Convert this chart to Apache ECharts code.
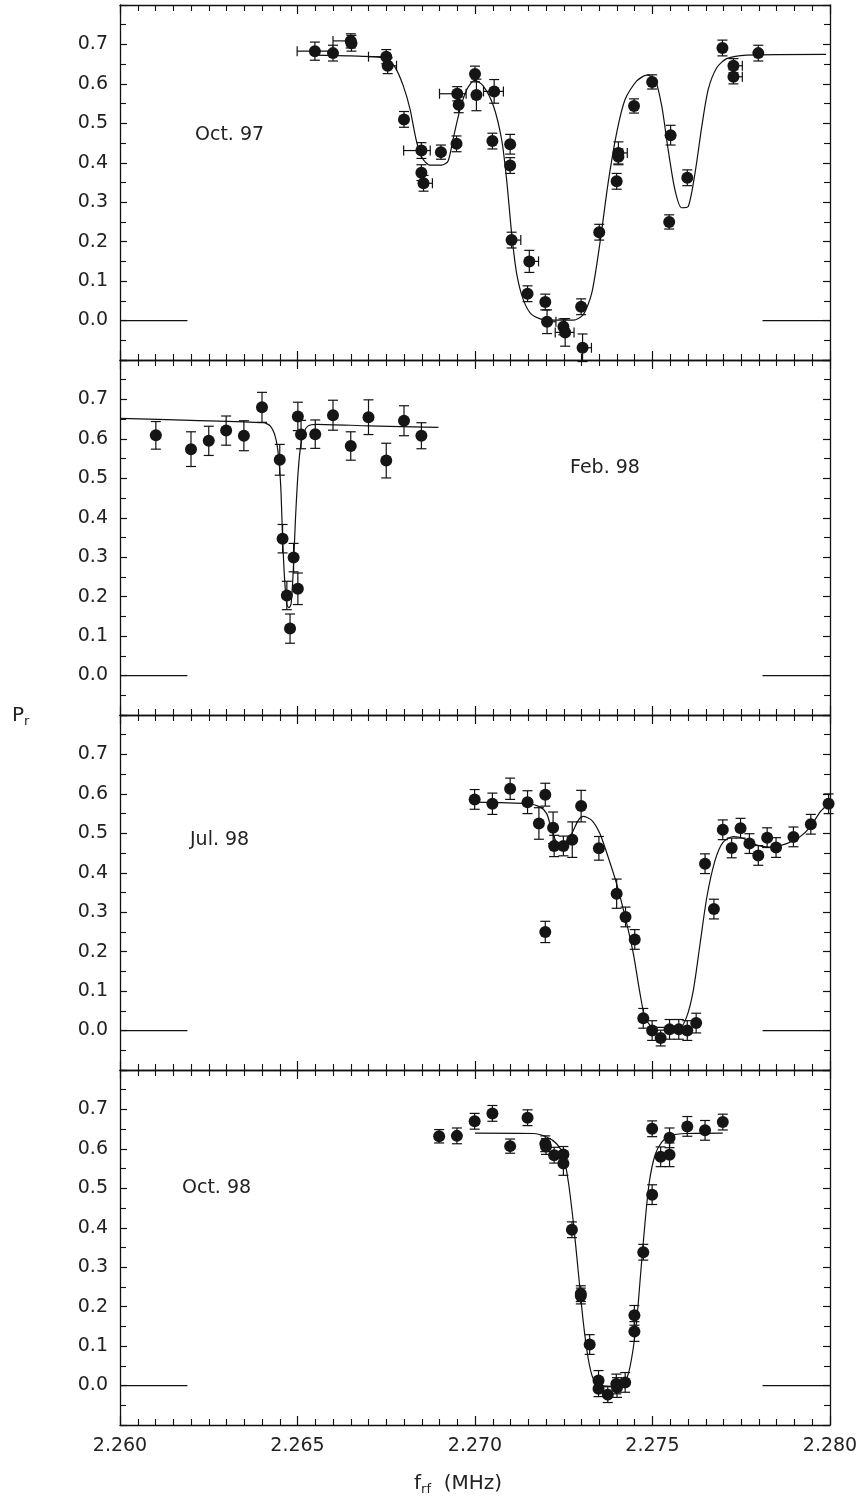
<!DOCTYPE html>
<html>
<head>
<meta charset="utf-8">
<script src="https://cdn.jsdelivr.net/npm/echarts@6/dist/echarts.min.js"></script>
<style>
html, body { margin: 0; padding: 0; background: #fff; }
#main { width: 864px; height: 1506px; }
</style>
</head>
<body>
<div id="main"></div>
<script>
// frequency axis (MHz) and polarisation axis
var xMin = 2.260, xMax = 2.280, xStep = 0.005;
var yMin = -0.1, yMax = 0.8, yStep = 0.1;
var panelNames = ['Oct. 97', 'Feb. 98', 'Jul. 98', 'Oct. 98'];

// measured points: [f, Pr, dPr, df left, df right]
var oct97Points = [
    [2.26549, 0.683, 0.023, 0.0005, 0.0005],
    [2.26600, 0.678, 0.020, 0, 0],
    [2.26650, 0.709, 0.018, 0.0005, 0],
    [2.26652, 0.703, 0.020, 0, 0],
    [2.26750, 0.669, 0.018, 0.0005, 0],
    [2.26754, 0.646, 0.020, 0, 0.00025],
    [2.26800, 0.510, 0.020, 0, 0],
    [2.26849, 0.431, 0.020, 0.0005, 0.00025],
    [2.26849, 0.375, 0.020, 0, 0],
    [2.26855, 0.348, 0.020, 0, 0.00025],
    [2.26904, 0.427, 0.018, 0, 0],
    [2.26948, 0.448, 0.020, 0, 0],
    [2.26950, 0.575, 0.018, 0.0005, 0.00025],
    [2.26954, 0.547, 0.020, 0, 0],
    [2.27000, 0.625, 0.020, 0, 0],
    [2.27004, 0.572, 0.040, 0, 0],
    [2.27054, 0.581, 0.030, 0.0003, 0.00026],
    [2.27049, 0.455, 0.020, 0, 0],
    [2.27099, 0.447, 0.025, 0, 0],
    [2.27099, 0.393, 0.020, 0, 0],
    [2.27103, 0.204, 0.020, 0, 0.00026],
    [2.27153, 0.150, 0.028, 0, 0.00026],
    [2.27148, 0.068, 0.020, 0, 0],
    [2.27198, 0.047, 0.020, 0, 0],
    [2.27203, -0.003, 0.030, 0, 0.00025],
    [2.27249, -0.016, 0.020, 0, 0],
    [2.27254, -0.030, 0.035, 0.00028, 0.00025],
    [2.27299, 0.035, 0.020, 0, 0],
    [2.27303, -0.069, 0.035, 0, 0.00025],
    [2.27350, 0.224, 0.020, 0, 0],
    [2.27399, 0.353, 0.020, 0, 0],
    [2.27404, 0.425, 0.028, 0, 0.00025],
    [2.27404, 0.415, 0.020, 0, 0],
    [2.27448, 0.544, 0.018, 0, 0],
    [2.27499, 0.605, 0.018, 0, 0],
    [2.27551, 0.470, 0.025, 0, 0],
    [2.27547, 0.250, 0.018, 0, 0],
    [2.27598, 0.362, 0.020, 0, 0],
    [2.27697, 0.691, 0.020, 0, 0],
    [2.27728, 0.646, 0.018, 0, 0.00025],
    [2.27728, 0.618, 0.018, 0, 0.00025],
    [2.27798, 0.678, 0.020, 0, 0]
];
var oct97Fit = [
    [2.2654, 0.673], [2.2665, 0.671], [2.2675, 0.665], [2.26775, 0.642], [2.26798, 0.595],
    [2.26817, 0.536], [2.26834, 0.459], [2.2685, 0.414], [2.26873, 0.394], [2.26906, 0.394],
    [2.26924, 0.404], [2.26938, 0.459], [2.26958, 0.536], [2.26977, 0.586], [2.26999, 0.609],
    [2.27023, 0.595], [2.27052, 0.544], [2.27075, 0.459], [2.27089, 0.358], [2.27103, 0.223],
    [2.27117, 0.121], [2.27136, 0.053], [2.2716, 0.015], [2.27202, 0.001], [2.27277, 0.001],
    [2.27305, 0.015], [2.27329, 0.070], [2.27352, 0.197], [2.27375, 0.349], [2.27399, 0.476],
    [2.27423, 0.561], [2.27455, 0.607], [2.27484, 0.622], [2.27507, 0.612], [2.27526, 0.544],
    [2.27544, 0.434], [2.27563, 0.332], [2.27582, 0.286], [2.27601, 0.290], [2.2762, 0.375],
    [2.27639, 0.493], [2.27657, 0.586], [2.27681, 0.641], [2.27709, 0.664], [2.27765, 0.673],
    [2.27989, 0.675]
];

var feb98Points = [
    [2.26101, 0.609, 0.035, 0, 0],
    [2.26200, 0.574, 0.044, 0, 0],
    [2.26250, 0.595, 0.037, 0, 0],
    [2.26299, 0.621, 0.037, 0, 0],
    [2.26349, 0.608, 0.038, 0, 0],
    [2.26400, 0.680, 0.038, 0, 0],
    [2.26450, 0.547, 0.039, 0, 0],
    [2.26458, 0.347, 0.036, 0, 0],
    [2.26470, 0.203, 0.036, 0, 0],
    [2.26479, 0.119, 0.037, 0, 0],
    [2.26489, 0.299, 0.036, 0, 0],
    [2.26501, 0.220, 0.040, 0, 0],
    [2.26501, 0.657, 0.036, 0, 0],
    [2.26510, 0.611, 0.036, 0, 0],
    [2.26550, 0.612, 0.036, 0, 0],
    [2.26600, 0.660, 0.038, 0, 0],
    [2.26650, 0.582, 0.036, 0, 0],
    [2.26700, 0.655, 0.044, 0, 0],
    [2.26750, 0.545, 0.044, 0, 0],
    [2.26800, 0.646, 0.038, 0, 0],
    [2.26849, 0.608, 0.033, 0, 0]
];
var feb98Fit = [
    [2.2600, 0.652], [2.2620, 0.647], [2.26404, 0.641], [2.26423, 0.633], [2.26437, 0.607],
    [2.26446, 0.561], [2.26453, 0.476], [2.26458, 0.349], [2.26464, 0.239], [2.2647, 0.180],
    [2.26476, 0.172], [2.26482, 0.182], [2.26488, 0.265], [2.26494, 0.392], [2.265, 0.493],
    [2.26507, 0.569], [2.26516, 0.612], [2.2653, 0.633], [2.26554, 0.637], [2.2670, 0.633],
    [2.26897, 0.629]
];

var jul98Points = [
    [2.26999, 0.586, 0.025, 0, 0],
    [2.27049, 0.575, 0.027, 0, 0],
    [2.27099, 0.613, 0.027, 0, 0],
    [2.27148, 0.579, 0.029, 0, 0],
    [2.27180, 0.525, 0.040, 0, 0],
    [2.27198, 0.598, 0.029, 0, 0],
    [2.27198, 0.250, 0.027, 0, 0],
    [2.27220, 0.514, 0.040, 0, 0],
    [2.27223, 0.468, 0.027, 0, 0],
    [2.27249, 0.468, 0.025, 0, 0],
    [2.27274, 0.484, 0.045, 0, 0],
    [2.27299, 0.569, 0.040, 0, 0],
    [2.27349, 0.462, 0.030, 0, 0],
    [2.27399, 0.347, 0.037, 0, 0],
    [2.27424, 0.288, 0.025, 0, 0],
    [2.27450, 0.231, 0.025, 0, 0],
    [2.27474, 0.031, 0.025, 0, 0],
    [2.27499, 0.000, 0.025, 0, 0],
    [2.27523, -0.019, 0.020, 0, 0],
    [2.27548, 0.003, 0.025, 0, 0],
    [2.27574, 0.003, 0.025, 0, 0],
    [2.27598, 0.000, 0.025, 0, 0],
    [2.27623, 0.019, 0.025, 0, 0],
    [2.27648, 0.423, 0.025, 0, 0],
    [2.27673, 0.308, 0.025, 0, 0],
    [2.27698, 0.509, 0.025, 0, 0],
    [2.27723, 0.463, 0.025, 0, 0],
    [2.27748, 0.513, 0.025, 0, 0],
    [2.27773, 0.474, 0.025, 0, 0],
    [2.27798, 0.444, 0.025, 0, 0],
    [2.27823, 0.489, 0.025, 0, 0],
    [2.27848, 0.464, 0.025, 0, 0],
    [2.27897, 0.491, 0.025, 0, 0],
    [2.27946, 0.523, 0.025, 0, 0],
    [2.27996, 0.575, 0.025, 0, 0]
];
var jul98Fit = [
    [2.2700, 0.579], [2.27148, 0.575], [2.27183, 0.567], [2.27202, 0.550], [2.27216, 0.508],
    [2.2723, 0.478], [2.27249, 0.474], [2.27272, 0.499], [2.27291, 0.533], [2.27305, 0.543],
    [2.27329, 0.533], [2.27352, 0.499], [2.27375, 0.440], [2.27399, 0.372], [2.27423, 0.288],
    [2.27446, 0.195], [2.27465, 0.093], [2.27479, 0.034], [2.27502, 0.008], [2.27577, 0.008],
    [2.27596, 0.034], [2.27615, 0.102], [2.27634, 0.220], [2.27653, 0.338], [2.27676, 0.431],
    [2.27699, 0.478], [2.27728, 0.492], [2.27756, 0.487], [2.27794, 0.470], [2.27831, 0.465],
    [2.27878, 0.474], [2.27915, 0.491], [2.27944, 0.516], [2.27972, 0.554], [2.27996, 0.575]
];

var oct98Points = [
    [2.26899, 0.632, 0.017, 0, 0],
    [2.26949, 0.633, 0.020, 0, 0],
    [2.26999, 0.670, 0.020, 0, 0],
    [2.27049, 0.690, 0.020, 0, 0],
    [2.27099, 0.607, 0.018, 0, 0],
    [2.27148, 0.679, 0.020, 0, 0],
    [2.27198, 0.613, 0.020, 0, 0],
    [2.27200, 0.606, 0.020, 0, 0],
    [2.27223, 0.584, 0.020, 0, 0],
    [2.27249, 0.586, 0.020, 0, 0],
    [2.27249, 0.563, 0.030, 0, 0],
    [2.27273, 0.395, 0.020, 0, 0],
    [2.27298, 0.233, 0.020, 0, 0],
    [2.27298, 0.227, 0.020, 0, 0],
    [2.27323, 0.104, 0.025, 0, 0],
    [2.27348, 0.013, 0.025, 0, 0],
    [2.27348, -0.008, 0.020, 0, 0],
    [2.27374, -0.023, 0.020, 0, 0],
    [2.27398, 0.004, 0.025, 0, 0],
    [2.27400, -0.005, 0.025, 0, 0],
    [2.27423, 0.008, 0.025, 0, 0],
    [2.27449, 0.178, 0.025, 0, 0],
    [2.27449, 0.137, 0.025, 0, 0],
    [2.27474, 0.338, 0.020, 0, 0],
    [2.27499, 0.484, 0.025, 0, 0],
    [2.27499, 0.651, 0.020, 0, 0],
    [2.27523, 0.580, 0.025, 0, 0],
    [2.27548, 0.628, 0.025, 0, 0],
    [2.27548, 0.585, 0.030, 0, 0],
    [2.27598, 0.657, 0.025, 0, 0],
    [2.27648, 0.647, 0.025, 0, 0],
    [2.27698, 0.668, 0.020, 0, 0]
];
var oct98Fit = [
    [2.2700, 0.640], [2.27164, 0.639], [2.27202, 0.630], [2.2723, 0.613], [2.27249, 0.584],
    [2.27263, 0.516], [2.27277, 0.414], [2.27291, 0.288], [2.27305, 0.161], [2.27319, 0.068],
    [2.27333, 0.017], [2.27352, 0.000], [2.27408, -0.002], [2.27427, 0.017], [2.27441, 0.068],
    [2.27455, 0.161], [2.27467, 0.288], [2.27479, 0.414], [2.27491, 0.516], [2.27507, 0.584],
    [2.27526, 0.617], [2.27549, 0.633], [2.27596, 0.639], [2.27698, 0.640]
];

// short zero-level marks at both ends of every panel
var zeroMarks = [[[2.2600, 0], [2.2619, 0]], [[2.2781, 0], [2.2800, 0]]];

var panelPoints = [oct97Points, feb98Points, jul98Points, oct98Points];
var panelFits = [oct97Fit, feb98Fit, jul98Fit, oct98Fit];

var gridLeft = 120, gridWidth = 710, gridTop = 5, gridHeight = 355;
var labelPos = [[195, 137], [570, 470], [190, 842], [182, 1190]];
var ink = '#111';
var font = 'DejaVu Sans';

var myChart = echarts.init(document.getElementById('main'));

function renderErr(params, api) {
    var x = api.value(0), y = api.value(1), e = api.value(2);
    var dl = api.value(3), dr = api.value(4);
    var top = api.coord([x, y + e]), bot = api.coord([x, y - e]);
    var cap = 5;
    var st = { stroke: ink, lineWidth: 1.2 };
    var kids = [
        { type: 'line', shape: { x1: top[0], y1: top[1], x2: bot[0], y2: bot[1] }, style: st },
        { type: 'line', shape: { x1: top[0] - cap, y1: top[1], x2: top[0] + cap, y2: top[1] }, style: st },
        { type: 'line', shape: { x1: bot[0] - cap, y1: bot[1], x2: bot[0] + cap, y2: bot[1] }, style: st }
    ];
    if (dl > 0 || dr > 0) {
        var l = api.coord([x - dl, y]), r = api.coord([x + dr, y]);
        kids.push({ type: 'line', shape: { x1: l[0], y1: l[1], x2: r[0], y2: r[1] }, style: st });
        if (dl > 0) kids.push({ type: 'line', shape: { x1: l[0], y1: l[1] - cap, x2: l[0], y2: l[1] + cap }, style: st });
        if (dr > 0) kids.push({ type: 'line', shape: { x1: r[0], y1: r[1] - cap, x2: r[0], y2: r[1] + cap }, style: st });
    }
    return { type: 'group', children: kids };
}

var grids = [], xAxes = [], yAxes = [], series = [], graphics = [];
for (var i = 0; i < 4; i++) {
    grids.push({ left: gridLeft, width: gridWidth, top: gridTop + i * gridHeight, height: gridHeight });
    var last = i === 3;
    [ 'bottom', 'top' ].forEach(function (pos) {
        xAxes.push({
            type: 'value', gridIndex: i, position: pos, min: xMin, max: xMax, interval: xStep,
            axisLine: { onZero: false, lineStyle: { color: ink, width: 1.3 } },
            axisTick: { inside: true, length: 9, lineStyle: { color: ink, width: 1.2 } },
            minorTick: { show: true, splitNumber: 10, length: 6, lineStyle: { color: ink, width: 1.1 } },
            splitLine: { show: false },
            axisLabel: {
                show: last && pos === 'bottom', margin: 12, color: '#222', fontSize: 19, fontFamily: font,
                formatter: function (v) { return v.toFixed(3); }
            }
        });
    });
    [ 'left', 'right' ].forEach(function (pos) {
        yAxes.push({
            type: 'value', gridIndex: i, position: pos, min: yMin, max: yMax, interval: yStep,
            axisLine: { show: true, onZero: false, lineStyle: { color: ink, width: 1.3 } },
            axisTick: { show: true, inside: true, length: 7, lineStyle: { color: ink, width: 1.2 } },
            minorTick: { show: true, splitNumber: 2, length: 6, lineStyle: { color: ink, width: 1.1 } },
            splitLine: { show: false },
            axisLabel: {
                show: pos === 'left', margin: 12, color: '#222', fontSize: 19, fontFamily: font,
                formatter: function (v) { return (v < -0.05 || v > 0.75) ? '' : v.toFixed(1); }
            }
        });
    });
    var xi = 2 * i, yi = 2 * i;
    zeroMarks.forEach(function (seg) {
        series.push({
            type: 'line', xAxisIndex: xi, yAxisIndex: yi, data: seg, showSymbol: false, silent: true,
            lineStyle: { color: ink, width: 1.2 }
        });
    });
    series.push({
        type: 'line', xAxisIndex: xi, yAxisIndex: yi, data: panelFits[i], showSymbol: false,
        smooth: 0.25, lineStyle: { color: ink, width: 1.2 }, z: 3
    });
    series.push({
        type: 'custom', xAxisIndex: xi, yAxisIndex: yi, data: panelPoints[i],
        renderItem: renderErr, encode: { x: 0, y: 1 }, z: 4
    });
    series.push({
        type: 'scatter', xAxisIndex: xi, yAxisIndex: yi, data: panelPoints[i],
        symbol: 'circle', symbolSize: 12, itemStyle: { color: '#151515', opacity: 1 }, z: 5
    });
    graphics.push({
        type: 'text', left: labelPos[i][0], top: labelPos[i][1] - 11,
        style: { text: panelNames[i], font: '19px "' + font + '"', fill: '#222' }
    });
}

graphics.push({
    type: 'text', left: 12, top: 706,
    style: {
        text: '{a|P}{b|r}',
        rich: {
            a: { fontSize: 20, fontFamily: font, fill: '#222', color: '#222' },
            b: { fontSize: 13, fontFamily: font, fill: '#222', color: '#222', padding: [12, 0, 0, 0] }
        }
    }
});
graphics.push({
    type: 'text', left: 414, top: 1474,
    style: {
        text: '{a|f}{b|rf}{a|  (MHz)}',
        rich: {
            a: { fontSize: 20, fontFamily: font, fill: '#222', color: '#222' },
            b: { fontSize: 13, fontFamily: font, fill: '#222', color: '#222', padding: [12, 0, 0, 0] }
        }
    }
});

var option = {
    backgroundColor: '#fff',
    animation: false,
    grid: grids,
    xAxis: xAxes,
    yAxis: yAxes,
    series: series,
    graphic: graphics
};
myChart.setOption(option);
</script>
</body>
</html>
